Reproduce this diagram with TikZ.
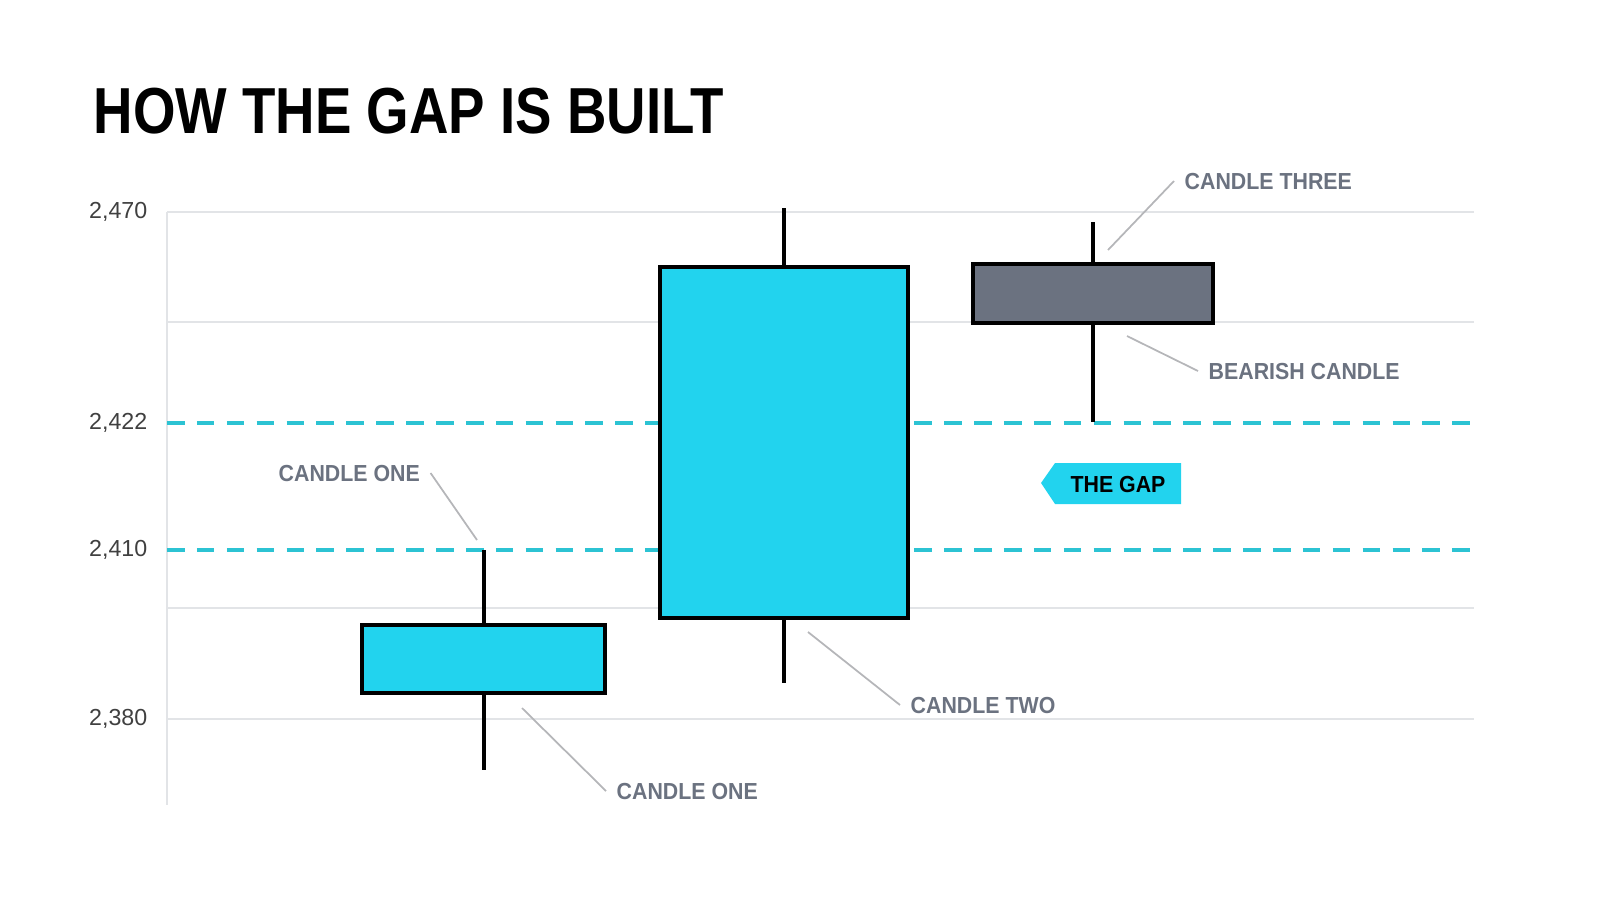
\documentclass[tikz,border=0pt]{standalone}
\usepackage{fontspec}
\setmainfont{Liberation Sans}
\usetikzlibrary{positioning, shapes.symbols}
\definecolor{bull}{HTML}{22D3EE}
\definecolor{bear}{HTML}{6B7280}
\definecolor{txtgrey}{HTML}{6B7280}
\definecolor{gridgrey}{HTML}{E2E4E7}
\definecolor{gapline}{HTML}{2CC3D3}
\newcommand{\narrow}[2]{\scalebox{#1}[1]{#2}}
\tikzset{
    grid line/.style={draw=gridgrey, line width=0.5pt},
    gap line/.style={draw=gapline, line width=1.2pt, dash pattern=on 5pt off 3.5pt},
    wick/.style={line width=1.2pt},
    body/.style={draw=black, line width=1.2pt},
    tick/.style={anchor=east, font=\fontsize{6.6}{8}\selectfont, text=black!75, inner sep=0pt},
    callout/.style={anchor=west, font=\fontsize{6.6}{8}\selectfont\bfseries, text=txtgrey, inner sep=0pt},
    leader/.style={draw=gridgrey!80!black, line width=0.5pt},
}
\begin{document}
\begin{tikzpicture}[x=0.01cm, y=-0.01cm]
    \useasboundingbox (0,0) rectangle (1600,914);

    \node[anchor=base west, inner sep=0pt, font=\fontsize{18.5}{22}\selectfont\bfseries] (title) at (93,133) {\narrow{0.84}{HOW THE GAP IS BUILT}};

    % grid and axis
    \foreach \y in {212, 322, 608, 719}
        \draw[grid line] (167,\y) -- (1474,\y);
    \draw[grid line] (167,212) -- (167,805);
    \draw[gap line] (167,423) -- (1474,423);
    \draw[gap line] (167,550) -- (1474,550);

    \node[tick] (t1) at (148,212) {2,470};
    \node[tick] (t2) at (148,423) {2,422};
    \node[tick] (t3) at (148,550) {2,410};
    \node[tick] (t4) at (148,719) {2,380};

    % candles
    \draw[wick] (484,550) -- (484,770);
    \draw[body, fill=bull] (362,625) rectangle (605,693);
    \draw[wick] (784,208) -- (784,683);
    \draw[body, fill=bull] (660,267) rectangle (908,618);
    \draw[wick] (1093,222) -- (1093,422);
    \draw[body, fill=bear] (973,264) rectangle (1213,323);

    % callouts
    \node[callout] (three) at (1184,181) {\narrow{0.92}{CANDLE THREE}};
    \node[callout] (bear) at (1208,371) {\narrow{0.92}{BEARISH CANDLE}};
    \node[callout] (one) at (278,473) {\narrow{0.92}{CANDLE ONE}};
    \node[callout] (two) at (910,705) {\narrow{0.92}{CANDLE TWO}};
    \node[callout] (onelow) at (616,791) {\narrow{0.92}{CANDLE ONE}};
    \coordinate (c3) at (1108,250);
    \coordinate (c3b) at (1127,336);
    \coordinate (c1) at (477,540);
    \coordinate (c2) at (808,632);
    \coordinate (c1b) at (522,708);
    \draw[leader] (three.west) ++(-10,0) -- (c3);
    \draw[leader] (bear.west) ++(-10,0) -- (c3b);
    \draw[leader] (one.east) ++(10,0) -- (c1);
    \draw[leader] (two.west) ++(-10,0) -- (c2);
    \draw[leader] (onelow.west) ++(-10,0) -- (c1b);

    % gap tag
    \fill[bull] (1041,483) -- (1055,463) -- (1181,463) -- (1181,504) -- (1055,504) -- cycle;
    \node[font=\fontsize{6.6}{8}\selectfont\bfseries, inner sep=0pt] (gap) at (1118,484) {\narrow{0.92}{THE GAP}};
\end{tikzpicture}
\end{document}
